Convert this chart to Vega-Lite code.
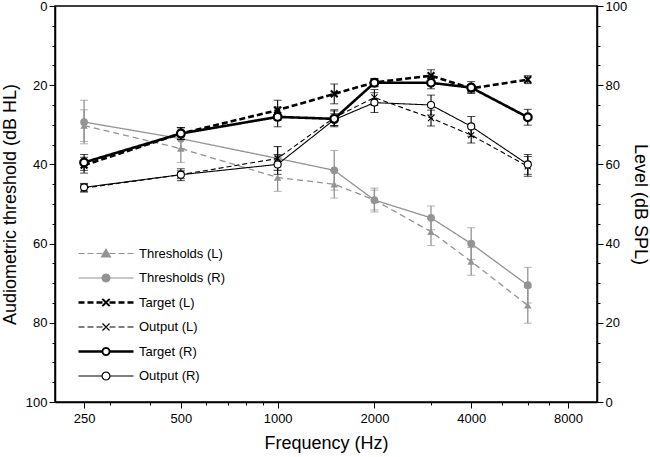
{
  "$schema": "https://vega.github.io/schema/vega-lite/v6.json",
  "width": 542,
  "height": 396,
  "autosize": {"type": "none"},
  "padding": {"left": 55, "top": 6, "right": 53, "bottom": 55},
  "background": "white",
  "config": {
    "view": {"stroke": "black", "strokeWidth": 1.5},
    "font": "Liberation Sans",
    "axis": {
      "grid": false,
      "domainColor": "black",
      "domainWidth": 1.5,
      "tickColor": "black",
      "tickWidth": 1,
      "labelColor": "black",
      "titleColor": "black",
      "labelFont": "Liberation Sans",
      "titleFont": "Liberation Sans",
      "labelFontSize": 13,
      "titleFontSize": 18,
      "titleFontWeight": "normal"
    },
    "legend": {
      "labelFont": "Liberation Sans",
      "labelFontSize": 13,
      "labelColor": "black"
    }
  },
  "datasets": {
    "rows": [
      {"series": "Thresholds (L)", "freq": 250, "value": 30.2, "err": 4},
      {"series": "Thresholds (L)", "freq": 500, "value": 36, "err": 3.5},
      {"series": "Thresholds (L)", "freq": 1000, "value": 43.3, "err": 3.5},
      {"series": "Thresholds (L)", "freq": 1500, "value": 45, "err": 3.5},
      {"series": "Thresholds (L)", "freq": 2000, "value": 49, "err": 3},
      {"series": "Thresholds (L)", "freq": 3000, "value": 57, "err": 3.5},
      {"series": "Thresholds (L)", "freq": 4000, "value": 64.5, "err": 3.5},
      {"series": "Thresholds (L)", "freq": 6000, "value": 75.6, "err": 4.5},
      {"series": "Thresholds (R)", "freq": 250, "value": 29.3, "err": 5.5},
      {"series": "Thresholds (R)", "freq": 500, "value": 33.5, "err": 2.5},
      {"series": "Thresholds (R)", "freq": 1000, "value": 38.5, "err": 3},
      {"series": "Thresholds (R)", "freq": 1500, "value": 41.5, "err": 5},
      {"series": "Thresholds (R)", "freq": 2000, "value": 49, "err": 2.5},
      {"series": "Thresholds (R)", "freq": 3000, "value": 53.5, "err": 3},
      {"series": "Thresholds (R)", "freq": 4000, "value": 60, "err": 4},
      {"series": "Thresholds (R)", "freq": 6000, "value": 70.5, "err": 4.5},
      {"series": "Target (L)", "freq": 250, "value": 59.8, "err": 2},
      {"series": "Target (L)", "freq": 500, "value": 67.8, "err": 1.5},
      {"series": "Target (L)", "freq": 1000, "value": 73.7, "err": 2.5},
      {"series": "Target (L)", "freq": 1500, "value": 77.8, "err": 2.5},
      {"series": "Target (L)", "freq": 2000, "value": 80.7, "err": 1},
      {"series": "Target (L)", "freq": 3000, "value": 82.4, "err": 1.5},
      {"series": "Target (L)", "freq": 4000, "value": 79.2, "err": 1},
      {"series": "Target (L)", "freq": 6000, "value": 81.4, "err": 1},
      {"series": "Output (L)", "freq": 250, "value": 54, "err": 1},
      {"series": "Output (L)", "freq": 500, "value": 57.4, "err": 1.5},
      {"series": "Output (L)", "freq": 1000, "value": 61.5, "err": 3},
      {"series": "Output (L)", "freq": 1500, "value": 71.8, "err": 2},
      {"series": "Output (L)", "freq": 2000, "value": 76.9, "err": 2},
      {"series": "Output (L)", "freq": 3000, "value": 71.7, "err": 2},
      {"series": "Output (L)", "freq": 4000, "value": 67.4, "err": 2},
      {"series": "Output (L)", "freq": 6000, "value": 59.5, "err": 2.5},
      {"series": "Target (R)", "freq": 250, "value": 60.5, "err": 2},
      {"series": "Target (R)", "freq": 500, "value": 67.8, "err": 1.5},
      {"series": "Target (R)", "freq": 1000, "value": 72, "err": 2.5},
      {"series": "Target (R)", "freq": 1500, "value": 71.5, "err": 2},
      {"series": "Target (R)", "freq": 2000, "value": 80.6, "err": 1},
      {"series": "Target (R)", "freq": 3000, "value": 80.6, "err": 1.5},
      {"series": "Target (R)", "freq": 4000, "value": 79.4, "err": 1.5},
      {"series": "Target (R)", "freq": 6000, "value": 71.9, "err": 2},
      {"series": "Output (R)", "freq": 250, "value": 54.2, "err": 1},
      {"series": "Output (R)", "freq": 500, "value": 57.4, "err": 1},
      {"series": "Output (R)", "freq": 1000, "value": 60, "err": 2.5},
      {"series": "Output (R)", "freq": 1500, "value": 71.3, "err": 1.5},
      {"series": "Output (R)", "freq": 2000, "value": 75.6, "err": 2.5},
      {"series": "Output (R)", "freq": 3000, "value": 75, "err": 2.5},
      {"series": "Output (R)", "freq": 4000, "value": 69.6, "err": 2.5},
      {"series": "Output (R)", "freq": 6000, "value": 60, "err": 2.5}
    ]
  },
  "data": {"name": "rows"},
  "encoding": {
    "x": {
      "field": "freq",
      "type": "quantitative",
      "scale": {"type": "log", "base": 2, "domain": [203, 9850], "nice": false, "zero": false},
      "axis": {
        "title": "Frequency (Hz)",
        "values": [250, 300, 400, 500, 600, 700, 800, 900, 1000, 2000, 3000, 4000, 5000, 6000, 7000, 8000],
        "format": "d",
        "labelExpr": "indexof([250, 500, 1000, 2000, 4000, 8000], datum.value) >= 0 ? datum.label : ''",
        "tickSize": {"condition": {"test": "indexof([250, 500, 1000, 2000, 4000, 8000], datum.value) >= 0", "value": 6}, "value": 3},
        "labelFlush": 15,
        "labelPadding": 4,
        "titlePadding": 9
      }
    }
  },
  "layer": [
    {
      "transform": [{"filter": {"field": "series", "oneOf": ["Thresholds (L)", "Thresholds (R)"]}}],
      "encoding": {
        "y": {
          "field": "value",
          "type": "quantitative",
          "scale": {"domain": [0, 100], "reverse": true, "nice": false, "zero": false},
          "axis": {
            "orient": "left",
            "title": "Audiometric threshold (dB HL)",
            "values": [0, 5, 10, 15, 20, 25, 30, 35, 40, 45, 50, 55, 60, 65, 70, 75, 80, 85, 90, 95, 100],
            "labelExpr": "datum.value % 20 == 0 ? datum.label : ''",
            "tickSize": {"condition": {"test": "datum.value % 20 == 0", "value": 6}, "value": 3},
            "labelPadding": 2,
            "titlePadding": 6
          }
        }
      },
      "layer": [
        {
          "mark": {"type": "errorbar", "color": "#939393", "ticks": {"size": 8}, "rule": {"strokeWidth": 1.3}},
          "encoding": {"yError": {"field": "err"}, "detail": {"field": "series", "type": "nominal"}}
        },
        {
          "mark": {"type": "line", "strokeWidth": 1.3},
          "encoding": {
            "color": {
              "field": "series", "type": "nominal",
              "scale": {
                "domain": ["Thresholds (L)", "Thresholds (R)", "Target (L)", "Output (L)", "Target (R)", "Output (R)"],
                "range": ["#939393", "#939393", "black", "black", "black", "black"]
              },
              "legend": {"title": null, "orient": "none", "legendX": 22, "legendY": 241, "padding": 0, "symbolSize": 100, "labelOffset": 49, "rowPadding": 10.5, "symbolOpacity": 1, "symbolStrokeWidth": 1.2}
            },
            "strokeDash": {
              "field": "series", "type": "nominal", "legend": null,
              "scale": {
                "domain": ["Output (L)", "Output (R)", "Target (L)", "Target (R)", "Thresholds (L)", "Thresholds (R)"],
                "range": [[5, 3], [1, 0], [6, 3], [1, 0], [6, 4], [1, 0]]
              }
            }
          }
        },
        {
          "transform": [{"filter": {"field": "series", "equal": "Thresholds (L)"}}],
          "mark": {"type": "point", "shape": "triangle-up", "filled": true, "color": "#939393", "opacity": 1, "size": 55}
        },
        {
          "transform": [{"filter": {"field": "series", "equal": "Thresholds (R)"}}],
          "mark": {"type": "point", "shape": "circle", "filled": true, "color": "#939393", "opacity": 1, "size": 60}
        }
      ]
    },
    {
      "transform": [{"filter": {"field": "series", "oneOf": ["Target (L)", "Output (L)", "Target (R)", "Output (R)"]}}],
      "encoding": {
        "y": {
          "field": "value",
          "type": "quantitative",
          "scale": {"domain": [0, 100], "nice": false, "zero": false},
          "axis": {
            "orient": "right",
            "title": "Level (dB SPL)",
            "values": [0, 5, 10, 15, 20, 25, 30, 35, 40, 45, 50, 55, 60, 65, 70, 75, 80, 85, 90, 95, 100],
            "labelExpr": "datum.value % 20 == 0 ? datum.label : ''",
            "tickSize": {"condition": {"test": "datum.value % 20 == 0", "value": 6}, "value": 3},
            "labelPadding": 2,
            "titlePadding": 4
          }
        }
      },
      "layer": [
        {
          "mark": {"type": "errorbar", "color": "black", "ticks": {"size": 8}, "rule": {"strokeWidth": 1.1}},
          "encoding": {"yError": {"field": "err"}, "detail": {"field": "series", "type": "nominal"}}
        },
        {
          "transform": [{"filter": {"field": "series", "oneOf": ["Output (L)", "Output (R)"]}}],
          "mark": {"type": "line", "strokeWidth": 1.1},
          "encoding": {
            "color": {
              "field": "series", "type": "nominal",
              "scale": {
                "domain": ["Thresholds (L)", "Thresholds (R)", "Target (L)", "Output (L)", "Target (R)", "Output (R)"],
                "range": ["#939393", "#939393", "black", "black", "black", "black"]
              },
              "legend": {"title": null, "orient": "none", "legendX": 22, "legendY": 241, "padding": 0, "symbolSize": 100, "labelOffset": 49, "rowPadding": 10.5, "symbolOpacity": 1, "symbolStrokeWidth": 1.2}
            },
            "strokeDash": {
              "field": "series", "type": "nominal", "legend": null,
              "scale": {
                "domain": ["Output (L)", "Output (R)", "Target (L)", "Target (R)", "Thresholds (L)", "Thresholds (R)"],
                "range": [[5, 3], [1, 0], [6, 3], [1, 0], [6, 4], [1, 0]]
              }
            }
          }
        },
        {
          "transform": [{"filter": {"field": "series", "oneOf": ["Target (L)", "Target (R)"]}}],
          "mark": {"type": "line", "strokeWidth": 2.6},
          "encoding": {
            "color": {
              "field": "series", "type": "nominal",
              "scale": {
                "domain": ["Thresholds (L)", "Thresholds (R)", "Target (L)", "Output (L)", "Target (R)", "Output (R)"],
                "range": ["#939393", "#939393", "black", "black", "black", "black"]
              },
              "legend": {"title": null, "orient": "none", "legendX": 22, "legendY": 241, "padding": 0, "symbolSize": 100, "labelOffset": 49, "rowPadding": 10.5, "symbolOpacity": 1, "symbolStrokeWidth": 1.2}
            },
            "strokeDash": {
              "field": "series", "type": "nominal", "legend": null,
              "scale": {
                "domain": ["Output (L)", "Output (R)", "Target (L)", "Target (R)", "Thresholds (L)", "Thresholds (R)"],
                "range": [[5, 3], [1, 0], [6, 3], [1, 0], [6, 4], [1, 0]]
              }
            }
          }
        },
        {
          "transform": [{"filter": {"field": "series", "equal": "Output (L)"}}],
          "mark": {"type": "point", "shape": "M-1,-1L1,1M-1,1L1,-1", "filled": false, "stroke": "black", "opacity": 1, "size": 36, "strokeWidth": 1.1}
        },
        {
          "transform": [{"filter": {"field": "series", "equal": "Target (L)"}}],
          "mark": {"type": "point", "shape": "M-1,-1L1,1M-1,1L1,-1", "filled": false, "stroke": "black", "opacity": 1, "size": 45, "strokeWidth": 2.2}
        },
        {
          "transform": [{"filter": {"field": "series", "equal": "Output (R)"}}],
          "mark": {"type": "point", "shape": "circle", "filled": false, "fill": "white", "stroke": "black", "opacity": 1, "size": 50, "strokeWidth": 1.1}
        },
        {
          "transform": [{"filter": {"field": "series", "equal": "Target (R)"}}],
          "mark": {"type": "point", "shape": "circle", "filled": false, "fill": "white", "stroke": "black", "opacity": 1, "size": 60, "strokeWidth": 2.2}
        }
      ]
    },
    {
      "transform": [{"filter": {"field": "freq", "equal": 250}}],
      "mark": {"type": "point", "filled": false, "opacity": 0, "strokeWidth": 1.2},
      "encoding": {
        "color": {
          "field": "series", "type": "nominal",
          "scale": {
            "domain": ["Thresholds (L)", "Thresholds (R)", "Target (L)", "Output (L)", "Target (R)", "Output (R)"],
            "range": ["#939393", "#939393", "black", "black", "black", "black"]
          },
          "legend": {"title": null, "orient": "none", "legendX": 22, "legendY": 241, "padding": 0, "symbolSize": 100, "labelOffset": 49, "rowPadding": 10.5, "symbolOpacity": 1, "symbolStrokeWidth": 1.2}
        },
        "shape": {
          "field": "series", "type": "nominal",
          "scale": {
            "domain": ["Thresholds (L)", "Thresholds (R)", "Target (L)", "Output (L)", "Target (R)", "Output (R)"],
            "range": [
              "M-1,0L0.2,0M0.8,0L2,0M2.6,0L3.8,0M5.2,0L6.4,0M7,0L8.2,0M8.8,0L10,0M4.5,-0.85L5.4,0.7L3.6,0.7Z",
              "M-1,0L10,0M5.3,0L5.193,0.4L4.9,0.693L4.5,0.8L4.1,0.693L3.807,0.4L3.7,0L3.807,-0.4L4.1,-0.693L4.5,-0.8L4.9,-0.693L5.193,-0.4Z",
              "M-1,-0.12L0.2,-0.12M0.8,-0.12L2,-0.12M2.6,-0.12L3.8,-0.12M5.2,-0.12L6.4,-0.12M7,-0.12L8.2,-0.12M8.8,-0.12L10,-0.12M-1,0.12L0.2,0.12M0.8,0.12L2,0.12M2.6,0.12L3.8,0.12M5.2,0.12L6.4,0.12M7,0.12L8.2,0.12M8.8,0.12L10,0.12M3.7,-0.7L5.1,0.7M3.9,-0.7L5.3,0.7M3.7,0.7L5.1,-0.7M3.9,0.7L5.3,-0.7",
              "M-1,0L0.2,0M0.8,0L2,0M2.6,0L3.8,0M5.2,0L6.4,0M7,0L8.2,0M8.8,0L10,0M3.8,-0.7L5.2,0.7M3.8,0.7L5.2,-0.7",
              "M-1,-0.12L3.7,-0.12M-1,0.12L3.7,0.12M5.3,-0.12L10,-0.12M5.3,0.12L10,0.12M5.3,0L5.193,0.4L4.9,0.693L4.5,0.8L4.1,0.693L3.807,0.4L3.7,0L3.807,-0.4L4.1,-0.693L4.5,-0.8L4.9,-0.693L5.193,-0.4ZM5.16,0L5.072,0.33L4.83,0.572L4.5,0.66L4.17,0.572L3.928,0.33L3.84,0L3.928,-0.33L4.17,-0.572L4.5,-0.66L4.83,-0.572L5.072,-0.33Z",
              "M-1,0L3.7,0M5.3,0L10,0M5.3,0L5.193,0.4L4.9,0.693L4.5,0.8L4.1,0.693L3.807,0.4L3.7,0L3.807,-0.4L4.1,-0.693L4.5,-0.8L4.9,-0.693L5.193,-0.4Z"
            ]
          },
          "legend": {"title": null, "orient": "none", "legendX": 22, "legendY": 241, "padding": 0, "symbolSize": 100, "labelOffset": 49, "rowPadding": 10.5, "symbolOpacity": 1, "symbolStrokeWidth": 1.2}
        },
        "fill": {
          "field": "series", "type": "nominal",
          "scale": {
            "domain": ["Thresholds (L)", "Thresholds (R)", "Target (L)", "Output (L)", "Target (R)", "Output (R)"],
            "range": ["#939393", "#939393", "transparent", "transparent", "white", "white"]
          },
          "legend": {"title": null, "orient": "none", "legendX": 22, "legendY": 241, "padding": 0, "symbolSize": 100, "labelOffset": 49, "rowPadding": 10.5, "symbolOpacity": 1, "symbolStrokeWidth": 1.2}
        }
      }
    }
  ],
  "resolve": {"scale": {"y": "independent"}}
}
